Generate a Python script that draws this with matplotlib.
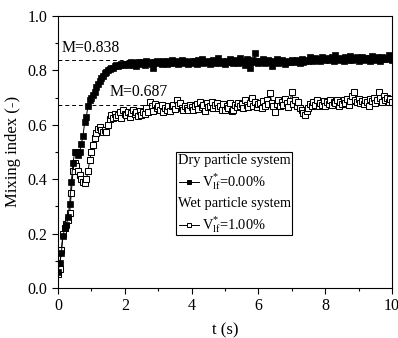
import matplotlib; matplotlib.use("Agg")
import matplotlib.pyplot as plt
import numpy as np
from matplotlib.patches import Rectangle
from matplotlib.ticker import MultipleLocator

plt.rcParams["font.family"] = ["Liberation Serif", "DejaVu Serif"]
plt.rcParams["mathtext.fontset"] = "custom"
plt.rcParams["mathtext.rm"] = "Liberation Serif"
plt.rcParams["mathtext.it"] = "Liberation Serif:italic"

# mixing index, sampled every 0.05 s from 0 to 10 s
dry = [0.06, 0.09, 0.13, 0.19, 0.22, 0.23, 0.26, 0.31, 0.39, 0.46,
       0.50, 0.50, 0.49, 0.50, 0.53, 0.56, 0.61, 0.63, 0.67, 0.69,
       0.70, 0.71, 0.72, 0.74, 0.75, 0.76, 0.77, 0.78, 0.79, 0.795,
       0.80, 0.805, 0.81, 0.81, 0.815, 0.82, 0.815, 0.82, 0.825, 0.82, 0.825,
       0.822, 0.818, 0.826, 0.83, 0.821, 0.827, 0.815, 0.83, 0.825, 0.832,
       0.828, 0.82, 0.834, 0.826, 0.83, 0.823, 0.808, 0.829, 0.833, 0.827,
       0.83, 0.824, 0.836, 0.829, 0.825, 0.833, 0.828, 0.838, 0.826, 0.831,
       0.835, 0.822, 0.83, 0.839, 0.827, 0.834, 0.829, 0.824, 0.832, 0.836,
       0.828, 0.833, 0.825, 0.837, 0.83, 0.842, 0.826, 0.832, 0.829, 0.836,
       0.822, 0.833, 0.839, 0.827, 0.831, 0.845, 0.828, 0.835, 0.83, 0.824,
       0.836, 0.829, 0.843, 0.831, 0.826, 0.838, 0.833, 0.828, 0.846, 0.83,
       0.835, 0.82, 0.84, 0.832, 0.807, 0.837, 0.829, 0.863, 0.834, 0.828,
       0.835, 0.83, 0.842, 0.826, 0.833, 0.838, 0.829, 0.814, 0.836, 0.831,
       0.84, 0.827, 0.834, 0.838, 0.83, 0.825, 0.836, 0.832, 0.829, 0.837,
       0.833, 0.83, 0.839, 0.835, 0.828, 0.843, 0.831, 0.836, 0.838, 0.833,
       0.85, 0.84, 0.836, 0.845, 0.838, 0.842, 0.835, 0.848, 0.84, 0.837,
       0.845, 0.839, 0.842, 0.85, 0.836, 0.857, 0.841, 0.838, 0.847, 0.84,
       0.835, 0.848, 0.843, 0.839, 0.852, 0.837, 0.844, 0.84, 0.849, 0.836,
       0.843, 0.85, 0.838, 0.845, 0.84, 0.847, 0.836, 0.852, 0.842, 0.839,
       0.848, 0.844, 0.835, 0.85, 0.841, 0.846, 0.84, 0.857, 0.845, 0.838]
wet = [0.05, 0.07, 0.14, 0.20, 0.22, 0.235, 0.25, 0.275, 0.35, 0.43,
       0.46, 0.45, 0.43, 0.415, 0.40, 0.39, 0.385, 0.40, 0.43, 0.47,
       0.50, 0.525, 0.55, 0.57, 0.585, 0.59, 0.58, 0.575, 0.58, 0.575,
       0.60, 0.62, 0.635, 0.625, 0.64, 0.63, 0.635, 0.645, 0.625, 0.654, 0.64,
       0.636, 0.648, 0.63, 0.642, 0.655, 0.638, 0.645, 0.632, 0.65, 0.636,
       0.648, 0.64, 0.66, 0.645, 0.685, 0.67, 0.652, 0.675, 0.66, 0.667,
       0.655, 0.672, 0.648, 0.662, 0.654, 0.668, 0.65, 0.667, 0.674, 0.658,
       0.69, 0.672, 0.68, 0.663, 0.655, 0.67, 0.66, 0.654, 0.672, 0.665,
       0.654, 0.668, 0.675, 0.658, 0.684, 0.666, 0.672, 0.652, 0.678, 0.664,
       0.67, 0.685, 0.66, 0.674, 0.68, 0.662, 0.668, 0.655, 0.676, 0.654,
       0.67, 0.662, 0.678, 0.65, 0.654, 0.672, 0.664, 0.68, 0.668, 0.676,
       0.66, 0.69, 0.672, 0.664, 0.678, 0.70, 0.67, 0.684, 0.666, 0.675,
       0.68, 0.662, 0.686, 0.67, 0.692, 0.676, 0.715, 0.68, 0.667, 0.648,
       0.675, 0.69, 0.668, 0.682, 0.673, 0.695, 0.678, 0.664, 0.686, 0.72,
       0.676, 0.69, 0.668, 0.682, 0.66, 0.654, 0.642, 0.636, 0.65, 0.662,
       0.675, 0.668, 0.684, 0.672, 0.69, 0.67, 0.68, 0.674, 0.686, 0.668,
       0.682, 0.675, 0.69, 0.672, 0.685, 0.678, 0.692, 0.67, 0.684, 0.676,
       0.69, 0.68, 0.695, 0.672, 0.688, 0.704, 0.72, 0.69, 0.682, 0.696,
       0.68, 0.688, 0.676, 0.692, 0.684, 0.67, 0.695, 0.686, 0.70, 0.678,
       0.692, 0.72, 0.698, 0.684, 0.705, 0.69, 0.70, 0.682, 0.694, 0.685]
t = np.linspace(0, 10, len(dry))

ref_labels = ["M=0.838", "M=0.687"]
ref_levels = [0.837, 0.674]

fig = plt.figure(figsize=(3.98, 3.38), dpi=100)
ax = fig.add_axes([0.1457, 0.148, 0.8392, 0.805])

ax.plot(t, wet, "-s", color="k", lw=0.7, ms=4.0, mfc="white", mec="k", mew=0.75)
ax.plot(t, dry, "-s", color="k", lw=0.7, ms=4.0, mfc="k", mec="k", mew=0.5)

ax.plot([0, 2.8], [ref_levels[0]] * 2, "--", color="k", lw=0.7, dashes=(4, 3))
ax.plot([0, 2.8], [ref_levels[1]] * 2, "--", color="k", lw=0.7, dashes=(4, 3))
ax.text(0.12, 0.882, ref_labels[0], fontsize=11.3, va="center")
ax.text(1.55, 0.72, ref_labels[1], fontsize=11.3, va="center")

ax.set_xlim(0, 10); ax.set_ylim(0, 1.0)
ax.xaxis.set_major_locator(MultipleLocator(2)); ax.xaxis.set_minor_locator(MultipleLocator(1))
ax.yaxis.set_major_locator(MultipleLocator(0.2)); ax.yaxis.set_minor_locator(MultipleLocator(0.1))
ax.tick_params(which="major", direction="out", length=4, width=0.8, labelsize=11.5)
ax.tick_params(which="minor", direction="out", length=2.5, width=0.8)
ax.set_xlabel("t (s)", fontsize=12, labelpad=6)
ax.set_ylabel("Mixing index (-)", fontsize=12, labelpad=5)
for s in ax.spines.values():
    s.set_linewidth(0.8)

# legend box, drawn by hand so the group titles sit flush left
ax.add_patch(Rectangle((0.353, 0.195), 0.348, 0.305, transform=ax.transAxes,
                       fill=False, lw=0.8, ec="k"))
rows = [(0.467, "Dry particle system", None),
        (0.389, r"$\mathrm{V}^{*}_{\mathrm{lf}}$=0.00%", "k"),
        (0.309, "Wet particle system", None),
        (0.231, r"$\mathrm{V}^{*}_{\mathrm{lf}}$=1.00%", "white")]
for y, label, face in rows:
    if face is None:
        ax.text(0.358, y, label, transform=ax.transAxes, fontsize=10.4, va="center")
    else:
        ax.plot([0.361, 0.421], [y, y], color="k", lw=0.7, transform=ax.transAxes)
        ax.plot([0.391], [y], "s", ms=3.2, mfc=face, mec="k", mew=0.7, transform=ax.transAxes)
        ax.text(0.432, y, label, transform=ax.transAxes, fontsize=10.4, va="center")

fig.savefig("out.png", dpi=100)
